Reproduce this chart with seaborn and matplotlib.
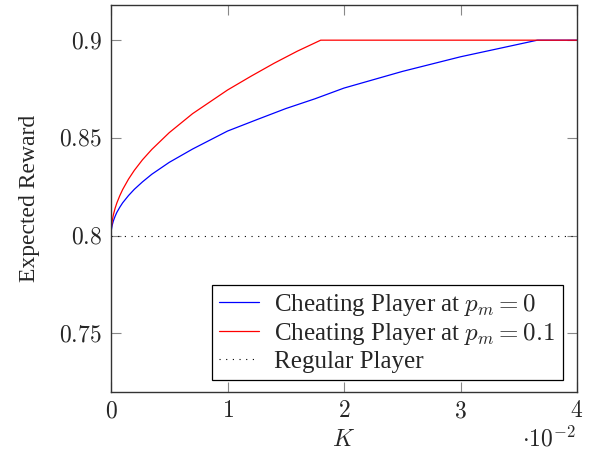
import numpy as np
import pandas as pd
import matplotlib
matplotlib.use("Agg")
import matplotlib.pyplot as plt
import seaborn as sns

# ---------------------------------------------------------
# data (K in units of 1e-2)
# ---------------------------------------------------------
k_blue = [0, 0.003, 0.01, 0.02, 0.035, 0.05, 0.075, 0.1, 0.15, 0.2, 0.27,
          0.35, 0.5, 0.7, 1.0, 1.25, 1.5, 1.75, 2.0, 2.5, 3.0, 3.35, 3.66, 4.0]
r_blue = [0.8, 0.8029, 0.8053, 0.8075, 0.8099, 0.8119, 0.8145, 0.8168, 0.8205,
          0.8237, 0.8275, 0.8314, 0.8375, 0.8443, 0.8535, 0.8593, 0.8650,
          0.8700, 0.8755, 0.8840, 0.8915, 0.8960, 0.9, 0.9]

k_red = [0, 0.003, 0.01, 0.02, 0.035, 0.05, 0.075, 0.1, 0.15, 0.2, 0.27,
         0.35, 0.5, 0.7, 1.0, 1.2, 1.4, 1.6, 1.8, 4.0]
r_red = [0.8, 0.8041, 0.8075, 0.8106, 0.8140, 0.8167, 0.8204, 0.8236, 0.8289,
         0.8334, 0.8388, 0.8441, 0.8527, 0.8624, 0.8745, 0.8815, 0.8882,
         0.8944, 0.9, 0.9]

k_reg = [0, 4.0]
r_reg = [0.8, 0.8]

x_ticks = [0, 1, 2, 3, 4]
y_ticks = [0.75, 0.8, 0.85, 0.9]

labels = [r"Cheating Player at $p_m = 0$",
          r"Cheating Player at $p_m = 0.1$",
          "Regular Player"]

# ---------------------------------------------------------
# plot
# ---------------------------------------------------------
sns.set_theme(style="ticks")
plt.rcParams["font.family"] = ["Liberation Serif", "DejaVu Serif"]
plt.rcParams["mathtext.fontset"] = "cm"

fs = 17

fig = plt.figure(figsize=(5.94, 4.62), dpi=100)
ax = fig.add_axes([0.1869, 0.1515, 0.7845, 0.8377])

sns.lineplot(x=k_blue, y=r_blue, color="blue", lw=0.9, label=labels[0], ax=ax)
sns.lineplot(x=k_red, y=r_red, color="red", lw=0.9, label=labels[1], ax=ax)
sns.lineplot(x=k_reg, y=r_reg, color="black", lw=0.8, linestyle=(0, (1, 5)),
             label=labels[2], ax=ax)

ax.set_xlim(0, 4)
ax.set_ylim(0.72, 0.918)
ax.set_xticks(x_ticks)
ax.set_xticklabels([f"${v}$" for v in x_ticks])
ax.set_yticks(y_ticks)
ax.set_yticklabels([f"${v:g}$" for v in y_ticks])
ax.tick_params(direction="in", length=7, width=0.8, color="#888888",
               top=True, right=True, labelsize=fs, pad=6.5)
for sp in ax.spines.values():
    sp.set_color("#333333")
    sp.set_linewidth(1.0)

ax.set_xlabel("$K$", fontsize=fs, labelpad=6)
ax.set_ylabel("Expected Reward", fontsize=fs, labelpad=14)
ax.text(0.997, -0.12, r"$\cdot 10^{-2}$", transform=ax.transAxes,
        ha="right", va="center", fontsize=fs)

leg = ax.legend(loc="lower right", bbox_to_anchor=(0.969, 0.031),
                borderaxespad=0, fontsize=18, fancybox=False, framealpha=1,
                edgecolor="black", handlelength=1.6, handletextpad=0.6,
                labelspacing=0.12, borderpad=0.3)
leg.get_frame().set_linewidth(0.9)

plt.savefig("out.png", dpi=100)
